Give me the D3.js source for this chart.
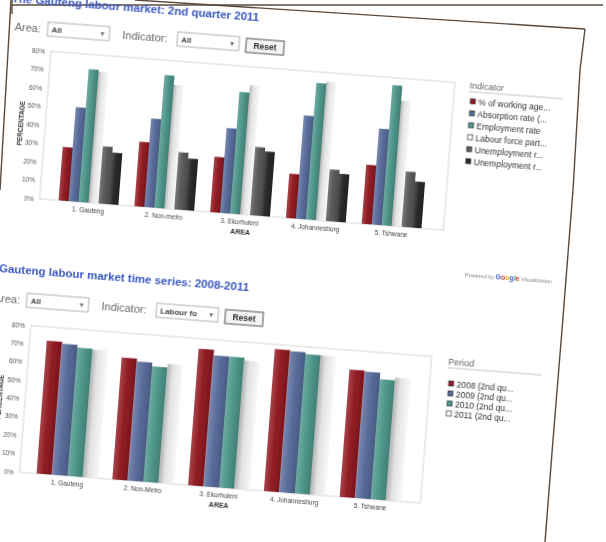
<!DOCTYPE html>
<html><head><meta charset="utf-8">
<script src="https://cdn.jsdelivr.net/npm/d3@7"></script>
<style>
html,body{margin:0;padding:0;background:#fff;overflow:hidden}
svg{display:block}
text{font-family:"Liberation Sans",Arial,sans-serif}
</style>
</head><body>
<svg id="c" width="606" height="542"></svg>
<script>
// ---------- data ----------
const title1 = "The Gauteng labour market: 2nd quarter 2011";
const title2 = "Gauteng labour market time series: 2008-2011";
const areas1 = ["1. Gauteng", "2. Non-metro", "3. Ekurhuleni", "4. Johannesburg", "5. Tshwane"];
const areas2 = ["1. Gauteng", "2. Non-Metro", "3. Ekurhuleni", "4. Johannesburg", "5. Tshwane"];
const indicatorLabels = ["% of working age...", "Absorption rate (...", "Employment rate", "Labour force part...", "Unemployment r...", "Unemployment r..."];
const pctWorkingAge = [29, 35, 30, 24, 32];
const absorptionRate = [51, 48, 46, 56, 52];
const employmentRate = [72, 72, 66, 74, 76];
const labourForcePart = [71, 67, 70, 75, 68];
const unemploymentExp = [31, 31, 37, 28, 30];
const unemploymentOff = [28, 28, 35, 26, 25];
const periodLabels = ["2008 (2nd qu...", "2009 (2nd qu...", "2010 (2nd qu...", "2011 (2nd qu..."];
const lfpr2008 = [72.5, 66.5, 74.5, 77.5, 69.5];
const lfpr2009 = [71.5, 65, 71.5, 77, 69];
const lfpr2010 = [70, 63, 71.5, 76, 65.5];
const lfpr2011 = [69.5, 65, 70, 76, 67];
const yTicks1 = [0, 10, 20, 30, 40, 50, 60, 70, 80];
const yTicks2 = [0, 10, 20, 30, 40, 50, 60, 70, 80];

// ---------- styles ----------
const colors1 = ["#921c24", "#5a6d9c", "#4f978c", "light", "#5c5c5c", "#2a2a2a"];
const colors2 = ["#921c24", "#5a6d9c", "#4f978c", "light"];
const FONT = '"Liberation Sans", Arial, sans-serif';

const svg = d3.select("#c");
const defs = svg.append("defs");
defs.append("filter").attr("id", "blur").attr("x", "-5%").attr("y", "-5%").attr("width", "110%").attr("height", "110%")
  .append("feGaussianBlur").attr("stdDeviation", 0.55);

function gradFor(c, id) {
  const g = defs.append("linearGradient").attr("id", id).attr("x1", 0).attr("x2", 1).attr("y1", 0).attr("y2", 0);
  if (c === "light") {
    g.append("stop").attr("offset", "0%").attr("stop-color", "#b4b4b4");
    g.append("stop").attr("offset", "35%").attr("stop-color", "#e2e2e2");
    g.append("stop").attr("offset", "100%").attr("stop-color", "#f8f8f8");
  } else {
    const base = d3.color(c);
    g.append("stop").attr("offset", "0%").attr("stop-color", d3.interpolateRgb(c, "#fff")(0.18));
    g.append("stop").attr("offset", "45%").attr("stop-color", base.formatHex());
    g.append("stop").attr("offset", "100%").attr("stop-color", base.darker(0.5).formatHex());
  }
  return `url(#${id})`;
}

// screen frame (photo edges)
const frame = svg.append("g").attr("fill", "none").attr("stroke", "#5b4a3c").attr("stroke-width", 1.4);
frame.append("path").attr("d", "M12,5 L603,5");
frame.append("path").attr("d", "M12,0 L12,14");
frame.append("path").attr("d", "M135,0 L585,29");
frame.append("path").attr("d", "M11,0 L0,190");
frame.append("path").attr("d", "M585,29 L580,70 L573,190 L562,330 L553,440 L545,542");

// rotated page
const page = svg.append("g").attr("transform", "translate(10,-16) rotate(4.4)").attr("filter", "url(#blur)");

function controls(g, y0, indText) {
  g.append("text").attr("x", 8).attr("y", y0 + 11).attr("font-size", 11).attr("fill", "#666").text("Area:");
  const sel = (x, w, t) => {
    g.append("rect").attr("x", x).attr("y", y0).attr("width", w).attr("height", 14).attr("fill", "#fff").attr("stroke", "#b0b0b0");
    g.append("text").attr("x", x + 4).attr("y", y0 + 10).attr("font-size", 8).attr("font-weight", "bold").attr("fill", "#444").text(t);
    g.append("text").attr("x", x + w - 9).attr("y", y0 + 10).attr("font-size", 8).attr("fill", "#777").text("▾");
  };
  sel(41, 62, "All");
  g.append("text").attr("x", 116).attr("y", y0 + 11).attr("font-size", 11).attr("fill", "#666").text("Indicator:");
  sel(171, 62, indText);
  g.append("rect").attr("x", 240).attr("y", y0 + 1).attr("width", 38).attr("height", 14).attr("fill", "#f4f4f4").attr("stroke", "#555");
  g.append("text").attr("x", 259).attr("y", y0 + 11).attr("text-anchor", "middle").attr("font-size", 8.5).attr("font-weight", "bold").attr("fill", "#333").text("Reset");
}

function drawChart(g, o) {
  g.append("text").attr("x", o.titleX).attr("y", o.titleY).attr("font-size", 11.5).attr("font-weight", "bold")
    .attr("fill", "#3a58c0").text(o.title);
  controls(g, o.ctrlY, o.indText);

  const x0 = d3.scaleBand().domain(o.areas).range([o.bandL, o.bandR]);
  const x1 = d3.scaleBand().domain(d3.range(o.series.length)).range([0, o.groupW]);
  const y = d3.scaleLinear().domain([0, 80]).range([o.bottom, o.top]);

  g.append("rect").attr("x", o.left).attr("y", o.top).attr("width", o.right - o.left).attr("height", o.bottom - o.top)
    .attr("fill", "#fff").attr("stroke", "#d6d6d6");

  const fills = o.colors.map((c, i) => gradFor(c, o.id + "g" + i));
  o.series.forEach((vals, si) => {
    g.append("g").selectAll("rect").data(vals).enter().append("rect")
      .attr("x", (d, i) => x0(o.areas[i]) + (x0.bandwidth() - o.groupW) / 2 + x1(si))
      .attr("y", d => y(d))
      .attr("width", x1.bandwidth())
      .attr("height", d => y(0) - y(d))
      .attr("fill", fills[si]);
  });

  const ya = g.append("g").attr("transform", `translate(${o.left},0)`)
    .call(d3.axisLeft(y).tickValues(o.ticks).tickSize(0).tickPadding(6).tickFormat(d => d + "%"));
  ya.select(".domain").remove();
  ya.selectAll("text").attr("font-size", 6.5).attr("fill", "#555").attr("font-family", FONT);

  const xa = g.append("g").attr("transform", `translate(0,${o.bottom})`)
    .call(d3.axisBottom(x0).tickSize(0).tickPadding(5));
  xa.select(".domain").remove();
  xa.selectAll("text").attr("font-size", 6.5).attr("fill", "#444").attr("font-family", FONT);

  g.append("text").attr("x", (o.left + o.right) / 2).attr("y", o.bottom + 20).attr("text-anchor", "middle")
    .attr("font-size", 7).attr("font-weight", "bold").attr("fill", "#333").text("AREA");
  g.append("text").attr("transform", `translate(24,${(o.top + o.bottom) / 2}) rotate(-90)`).attr("text-anchor", "middle")
    .attr("font-size", 6.5).attr("font-weight", "bold").attr("fill", "#333").text("PERCENTAGE");

  // legend
  g.append("text").attr("x", 466).attr("y", o.legY).attr("font-size", 9).attr("fill", "#666").text(o.legTitle);
  g.append("line").attr("x1", 466).attr("x2", 560).attr("y1", o.legY + 3).attr("y2", o.legY + 3).attr("stroke", "#c4c4c4");
  const li = g.append("g").selectAll("g").data(o.legLabels).enter().append("g")
    .attr("transform", (d, i) => `translate(468,${o.legY + o.legFirst + i * o.legStep})`);
  li.append("rect").attr("x", 0).attr("y", -3).attr("width", 5).attr("height", 5)
    .attr("fill", (d, i) => o.colors[i] === "light" ? "#fff" : o.colors[i]).attr("stroke", "#333").attr("stroke-width", 0.7);
  li.append("text").attr("x", 8).attr("y", 2.5).attr("font-size", 8.5).attr("fill", "#333").text(d => d);
}

drawChart(page, {
  id: "a", title: title1, titleX: 3, titleY: 18, ctrlY: 35, indText: "All",
  areas: areas1, series: [pctWorkingAge, absorptionRate, employmentRate, labourForcePart, unemploymentExp, unemploymentOff],
  colors: colors1, left: 46, right: 451, bandL: 57, bandR: 437, top: 64, bottom: 212, groupW: 60, ticks: yTicks1,
  legTitle: "Indicator", legY: 69, legFirst: 13, legStep: 12, legLabels: indicatorLabels
});
drawChart(page, {
  id: "b", title: title2, titleX: 11, titleY: 288, ctrlY: 307, indText: "Labour fo",
  areas: areas2, series: [lfpr2008, lfpr2009, lfpr2010, lfpr2011],
  colors: colors2, left: 47, right: 449, bandL: 57, bandR: 437, top: 339, bottom: 486, groupW: 62, ticks: yTicks2,
  legTitle: "Period", legY: 346, legFirst: 19, legStep: 10, legLabels: periodLabels
});

// powered by
const pb = page.append("text").attr("x", 476).attr("y", 257).attr("font-size", 5.5).attr("fill", "#888");
pb.append("tspan").text("Powered by ");
[["G", "#3a62c9"], ["o", "#d0312d"], ["o", "#e3b11b"], ["g", "#3a62c9"], ["l", "#3b9a46"], ["e", "#d0312d"]].forEach(p => {
  pb.append("tspan").attr("fill", p[1]).attr("font-weight", "bold").attr("font-size", 7).text(p[0]);
});
pb.append("tspan").text(" Visualization");
</script>
</body></html>
